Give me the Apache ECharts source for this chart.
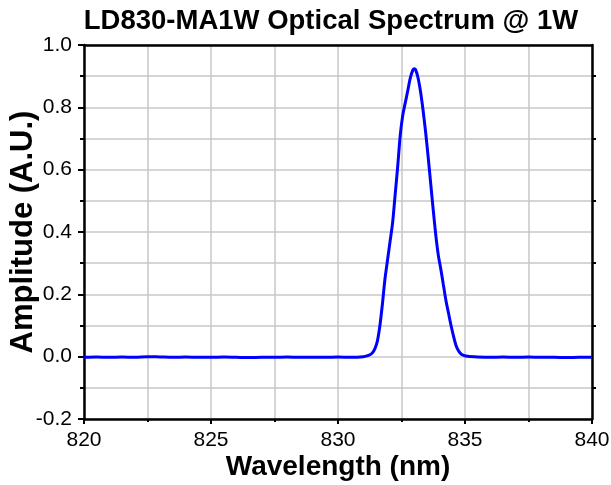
<!DOCTYPE html>
<html>
<head>
<meta charset="utf-8">
<script src="https://cdn.jsdelivr.net/npm/echarts@6/dist/echarts.min.js"></script>
<style>html,body{margin:0;padding:0;background:#fff}#c{width:611px;height:485px}</style>
</head>
<body>
<div id="c"></div>
<script>
var wavelengths = [820,820.5,821,821.5,822,822.5,823,823.5,824,824.5,825,825.5,826,826.5,827,827.5,828,828.5,829,829.5,830,830.5,831,831.2,831.35,831.45,831.55,831.65,831.75,831.85,831.95,832.05,832.15,832.25,832.35,832.45,832.55,832.65,832.75,832.85,832.95,833.0,833.05,833.15,833.25,833.35,833.45,833.55,833.65,833.75,833.85,833.95,834.05,834.15,834.25,834.35,834.45,834.55,834.65,834.75,834.85,834.95,835.1,835.5,836,836.5,837,837.5,838,838.5,839,839.5,840];
var amplitudes = [-0.002,-0.001,-0.002,-0.001,-0.002,0.000,-0.001,-0.002,-0.001,-0.002,-0.002,-0.001,-0.002,-0.003,-0.002,-0.002,-0.001,-0.002,-0.002,-0.002,-0.001,-0.002,0.000,0.004,0.012,0.025,0.05,0.10,0.17,0.25,0.31,0.37,0.43,0.52,0.61,0.71,0.775,0.815,0.855,0.895,0.92,0.924,0.922,0.895,0.85,0.79,0.72,0.64,0.555,0.47,0.39,0.325,0.28,0.23,0.18,0.14,0.10,0.065,0.035,0.018,0.008,0.004,0.001,-0.001,-0.002,-0.001,-0.002,-0.001,-0.002,-0.002,-0.003,-0.002,-0.002];
var titleText = "LD830-MA1W Optical Spectrum @ 1W";
var xName = "Wavelength (nm)";
var yName = "Amplitude (A.U.)";

var data = wavelengths.map(function(w, i){ return [w, amplitudes[i]]; });
var font = "Arial, 'Liberation Sans', sans-serif";
var gridColor = '#c8c8c8';

var chart = echarts.init(document.getElementById('c'));
chart.setOption({
  animation: false,
  backgroundColor: '#fff',
  title: {
    text: titleText,
    left: 326, top: 2, textAlign: 'center',
    textStyle: { fontFamily: font, fontWeight: 'bold', fontSize: 27.5, color: '#000' }
  },
  grid: { left: 84, right: 19, top: 45, bottom: 66, containLabel: false, outerBoundsMode: 'none' },
  xAxis: [{
    type: 'value', min: 820, max: 840, interval: 5,
    name: xName, nameLocation: 'middle', nameGap: 34, nameMoveOverlap: false,
    nameTextStyle: { fontFamily: font, fontWeight: 'bold', fontSize: 28, color: '#000' },
    axisLine: { show: true, onZero: false, lineStyle: { color: '#000', width: 2.5 } },
    axisTick: { show: true, inside: false, length: 5, lineStyle: { color: '#000', width: 2 } },
    minorTick: { show: true, splitNumber: 2, length: 3, lineStyle: { color: '#000', width: 2 } },
    axisLabel: { fontFamily: font, fontSize: 21, color: '#000', margin: 11 },
    splitLine: { show: true, lineStyle: { color: gridColor, width: 1.5 } },
    minorSplitLine: { show: true, lineStyle: { color: gridColor, width: 1.5 } }
  }, {
    type: 'value', min: 820, max: 840, interval: 5, position: 'top',
    axisLine: { show: true, onZero: false, lineStyle: { color: '#000', width: 2.5 } },
    axisTick: { show: false }, axisLabel: { show: false }, splitLine: { show: false }
  }],
  yAxis: [{
    type: 'value', min: -0.2, max: 1.0, interval: 0.2,
    name: yName, nameLocation: 'middle', nameGap: 45, nameMoveOverlap: false,
    nameTextStyle: { fontFamily: font, fontWeight: 'bold', fontSize: 31, color: '#000' },
    axisLine: { show: true, onZero: false, lineStyle: { color: '#000', width: 2.5 } },
    axisTick: { show: true, inside: false, length: 6, lineStyle: { color: '#000', width: 2 } },
    minorTick: { show: true, splitNumber: 2, length: 4, lineStyle: { color: '#000', width: 2 } },
    axisLabel: { fontFamily: font, fontSize: 21, color: '#000', margin: 12,
      formatter: function(v){ return v.toFixed(1); } },
    splitLine: { show: true, lineStyle: { color: gridColor, width: 1.5 } },
    minorSplitLine: { show: true, lineStyle: { color: gridColor, width: 1.5 } }
  }, {
    type: 'value', min: -0.2, max: 1.0, interval: 0.2, position: 'right',
    axisLine: { show: true, onZero: false, lineStyle: { color: '#000', width: 2.5 } },
    axisTick: { show: false },
    minorTick: { show: true, splitNumber: 2, length: 4, lineStyle: { color: '#000', width: 2 } },
    axisLabel: { show: false }, splitLine: { show: false }
  }],
  series: [{
    type: 'line', data: data, smooth: 0.3, showSymbol: false,
    lineStyle: { color: '#0000ff', width: 3 },
    itemStyle: { color: '#0000ff' }
  }]
});
</script>
</body>
</html>
